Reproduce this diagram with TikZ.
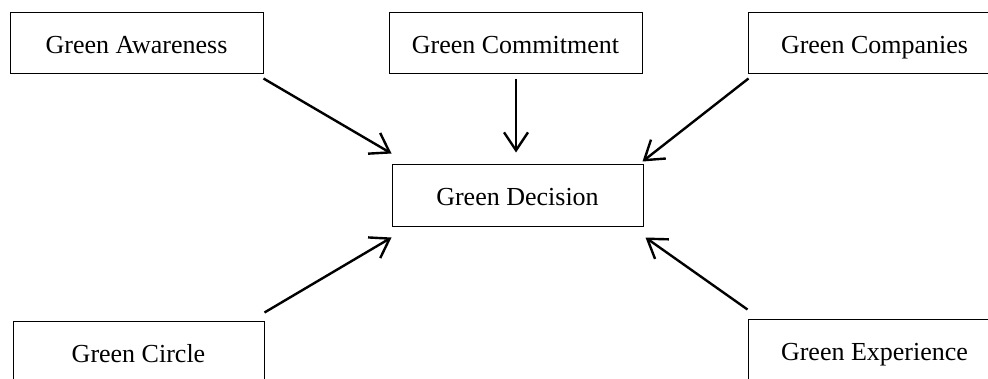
\documentclass[tikz,border=0pt]{standalone}
\usepackage{fontspec}
\setmainfont{Liberation Serif}
\usetikzlibrary{arrows.meta}
\begin{document}
\begin{tikzpicture}[x=1pt,y=-1pt,
  box/.style={draw, line width=1pt, minimum width=253pt, minimum height=61pt,
    inner sep=0pt, text height=21pt, text depth=0pt, font=\fontsize{26}{30}\selectfont},
  ar/.style={line width=2.4pt, -{Straight Barb[length=18pt,width=24pt,line width=2.4pt]}}]
\useasboundingbox (0,0) rectangle (988,378);
\clip (0,0) rectangle (988,378);
\node[box] (aw) at (136.5,42.5) {Green Awareness};
\node[box] (cm) at (515.5,42.5) {Green Commitment};
\node[box] (co) at (874.5,42.5) {Green Companies};
\node[box, minimum width=251pt, minimum height=62pt] (dec) at (517.5,195) {Green Decision};
\node[box, minimum width=251pt] (ci) at (138.5,351.5) {Green Circle};
\node[box] (ex) at (874.5,349.5) {Green Experience};
\draw[ar] ([shift={(0,5)}]aw.south east) -- ([shift={(0,-10)}]dec.north west);
\draw[ar] ([shift={(0.5,5)}]cm.south) -- ([shift={(-1.5,-11)}]dec.north);
\draw[ar] ([shift={(1,5)}]co.south west) -- ([shift={(-1,-2)}]dec.north east);
\draw[ar] ([shift={(0,-8)}]ci.north east) -- ([shift={(0,11)}]dec.south west);
\draw[ar] ([shift={(0,-9)}]ex.north west) -- ([shift={(2,11)}]dec.south east);
\end{tikzpicture}
\end{document}
